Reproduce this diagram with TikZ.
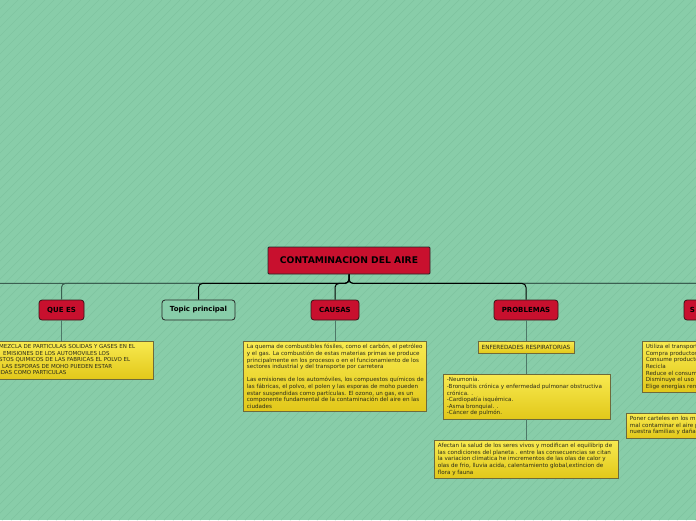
\documentclass[tikz,border=0pt]{standalone}
\usepackage{fontspec}
\setmainfont{DejaVu Sans}
\definecolor{bg}{HTML}{88CDA9}
\definecolor{stripe}{HTML}{80C5A1}
\definecolor{redn}{HTML}{C8102E}
\definecolor{redb}{HTML}{3A1518}
\definecolor{ytop}{HTML}{F8EA50}
\definecolor{ybot}{HTML}{E2C81A}
\definecolor{yborder}{HTML}{6E6A3C}
\definecolor{linegray}{HTML}{4E7868}
\definecolor{busgray}{HTML}{3B5F51}
\definecolor{txt}{HTML}{2A2A1A}
\tikzset{
  rednode/.style={draw=redb, fill=redn, rounded corners=3pt, line width=0.8pt,
    font=\fontsize{7}{8}\selectfont\bfseries, text=black, minimum height=20pt, inner sep=0pt},
  mainnode/.style={draw=black!85, fill=redn, rounded corners=1pt, line width=0.8pt,
    font=\fontsize{9.2}{10}\selectfont\bfseries, text=black, minimum width=162pt, minimum height=27pt, inner sep=0pt},
  topicnode/.style={draw=black!85, fill=bg, rounded corners=3pt, line width=0.8pt,
    font=\fontsize{7}{8}\selectfont\bfseries, text=black, minimum height=20pt, inner sep=0pt},
  ybox/.style={draw=yborder, line width=0.6pt, top color=ytop, bottom color=ybot, inner sep=0pt},
  ytext/.style={font=\fontsize{5.6}{6.6}\selectfont, text=txt, align=left, anchor=north west, inner sep=0pt},
  bus/.style={line width=1pt, rounded corners=4pt},
  stem/.style={draw=linegray, line width=0.8pt},
  stripeline/.style={draw=stripe, line width=0.7pt}
}
\begin{document}
\begin{tikzpicture}[x=1pt,y=-1pt]
\useasboundingbox (0,0) rectangle (696,520);
\fill[bg] (0,0) rectangle (696,520);
\begin{scope}
\clip (0,0) rectangle (696,520);
\foreach \i in {-520,-511,...,700} \draw[stripeline] (\i,520) -- ++(520,-520);
\end{scope}

% nodes
\node[mainnode] (main) at (349,260.5) {CONTAMINACION DEL AIRE};
\node[rednode, minimum width=45pt] (que) at (61.5,310) {QUE ES};
\node[topicnode, minimum width=73pt] (topic) at (198.5,310) {Topic principal};
\node[rednode, minimum width=48pt] (causas) at (335,310) {CAUSAS};
\node[rednode, minimum width=64pt] (problemas) at (526,310) {PROBLEMAS};
\node[rednode, minimum width=40pt] (sol) at (704,310) {};
\node[font=\fontsize{7}{8}\selectfont\bfseries, anchor=west, inner sep=0pt] (solt) at ([xshift=6pt]sol.west) {S};
\coordinate (offleft) at (-40,300);
\coordinate (offright) at (760,300);

% bus
\draw[bus, busgray] (main.south) -- ++(0,9) -| (offleft);
\draw[bus, busgray] (main.south) -- ++(0,9) -| (que.north);
\draw[bus, busgray] (main.south) -- ++(0,9) -| (offright);
\draw[bus, busgray] (main.south) -- ++(0,9) -| (sol.north);
\draw[bus, black] (main.south) -- ++(0,9) -| (topic.north);
\draw[bus, black] (main.south) -- ++(0,9) -| (causas.north);
\draw[bus, black] (main.south) -- ++(0,9) -| (problemas.north);

% yellow boxes
\node[ybox, minimum width=173pt, minimum height=38pt] (quebox) at (66.5,360) {};
\node[ytext, font=\fontsize{5.5}{6.5}\selectfont] (quet) at (-1,344.5) {MEZCLA DE PARTICULAS SOLIDAS Y GASES EN EL\\
\hspace*{4pt}EMISIONES DE LOS AUTOMOVILES LOS\\
STOS QUIMICOS DE LAS FABRICAS EL POLVO EL\\
\hspace*{3pt}LAS ESPORAS DE MOHO PUEDEN ESTAR\\
IDAS COMO PARTICULAS};

\node[ybox, minimum width=183pt, minimum height=70pt] (causasbox) at (334.5,376) {};
\node[ytext] (causast) at ([xshift=4pt,yshift=-3.5pt]causasbox.north west) {La quema de combustibles fósiles, como el carbón, el petróleo\\
y el gas. La combustión de estas materias primas se produce\\
principalmente en los procesos o en el funcionamiento de los\\
sectores industrial y del transporte por carretera\\[6.6pt]
Las emisiones de los automóviles, los compuestos químicos de\\
las fábricas, el polvo, el polen y las esporas de moho pueden\\
estar suspendidas como partículas. El ozono, un gas, es un\\
componente fundamental de la contaminación del aire en las\\
ciudades};

\node[ybox, minimum width=96pt, minimum height=12pt, font=\fontsize{5.7}{6}\selectfont, text=txt] (enf) at (526,347) {ENFEREDADES RESPIRATORIAS};

\node[ybox, minimum width=167pt, minimum height=45pt] (neum) at (526.5,396.5) {};
\node[ytext] (neumt) at ([xshift=4pt,yshift=-3.5pt]neum.north west) {-Neumonía.\\
-Bronquitis crónica y enfermedad pulmonar obstructiva\\
crónica. .\\
-Cardiopatía isquémica.\\
-Asma bronquial. .\\
-Cáncer de pulmón.};

\node[ybox, minimum width=184pt, minimum height=38pt] (afect) at (526,459) {};
\node[ytext] (afectt) at ([xshift=4pt,yshift=-3.5pt]afect.north west) {Afectan la salud de los seres vivos y modifican el equilibrip de\\
las condiciones del planeta . entre las consecuencias se citan\\
la variacion climatica he imcrementos de las olas de calor y\\
olas de frio, lluvia acida, calentamiento global,extincion de\\
flora y fauna};

\node[ybox, minimum width=78pt, minimum height=51pt] (solbox1) at (681,366.5) {};
\node[ytext] (sol1t) at ([xshift=4pt,yshift=-3.5pt]solbox1.north west) {Utiliza el transport\\
Compra productos\\
Consume producto\\
Recicla\\
Reduce el consum\\
Disminuye el uso\\
Elige energías ren};

\node[ybox, minimum width=94pt, minimum height=25pt] (solbox2) at (673,425.5) {};
\node[ytext] (sol2t) at ([xshift=4pt,yshift=-3.5pt]solbox2.north west) {Poner carteles en los m\\
mal contaminar el aire p\\
nuestra familias y dañar};

% stems
\draw[stem] (que.south) -- (que.south |- quebox.north);
\draw[stem] (causas.south) -- (causas.south |- causasbox.north);
\draw[stem] (problemas.south) -- (enf.north);
\draw[stem] (enf.south) -- (enf.south |- neum.north);
\draw[stem] (neum.south -| enf.south) -- (enf.south |- afect.north);
\end{tikzpicture}
\end{document}
